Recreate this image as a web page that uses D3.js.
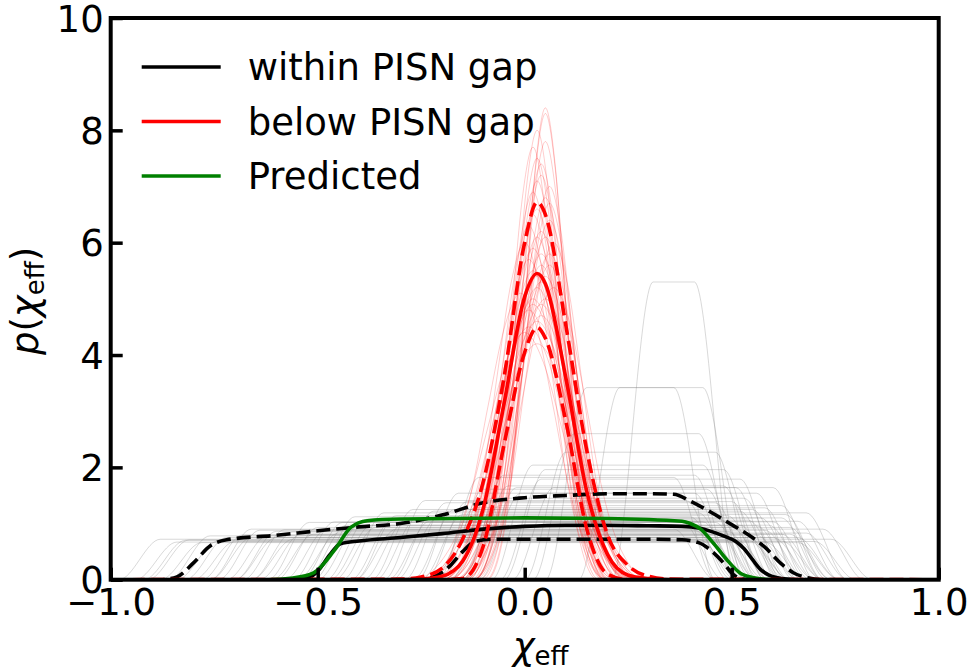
<!DOCTYPE html>
<meta charset="utf-8">
<script src="https://d3js.org/d3.v7.min.js"></script>
<style>
  body { margin: 0; background: #fff; }
  text { font-family: "DejaVu Sans", sans-serif; }
</style>
<div id="chart"></div>
<script>
    // tick values
    const xTicks = [-1, -0.5, 0, 0.5, 1];
    const yTicks = [0, 2, 4, 6, 8, 10];

    // legend
    const legendLabels = ["within PISN gap", "below PISN gap", "Predicted"];
    const legendColors = ["black", "red", "green"];

    // posterior draws, within PISN gap: [low edge, high edge, height]
    const grayDraws = [
        [-0.88, 0.62, 0.67], [-0.85, 0.55, 0.71], [-0.82, 0.70, 0.66], [-0.80, 0.48, 0.78],
        [-0.78, 0.66, 0.69], [-0.76, 0.58, 0.75], [-0.74, 0.74, 0.68], [-0.72, 0.52, 0.80],
        [-0.70, 0.64, 0.75], [-0.68, 0.45, 0.88], [-0.66, 0.60, 0.79], [-0.64, 0.70, 0.75],
        [-0.62, 0.50, 0.89], [-0.60, 0.57, 0.85], [-0.58, 0.66, 0.81], [-0.56, 0.42, 1.02],
        [-0.54, 0.54, 0.93], [-0.52, 0.62, 0.88], [-0.50, 0.47, 1.03], [-0.49, 0.72, 0.83],
        [-0.47, 0.56, 0.97], [-0.45, 0.44, 1.12], [-0.44, 0.60, 0.96], [-0.42, 0.51, 1.08],
        [-0.40, 0.68, 0.93], [-0.38, 0.46, 1.19], [-0.36, 0.58, 1.06], [-0.35, 0.53, 1.14],
        [-0.33, 0.64, 1.03], [-0.31, 0.49, 1.25], [-0.30, 0.61, 1.10], [-0.28, 0.43, 1.41],
        [-0.26, 0.56, 1.22], [-0.25, 0.66, 1.10], [-0.23, 0.50, 1.37], [-0.21, 0.59, 1.25],
        [-0.20, 0.45, 1.54], [-0.18, 0.54, 1.39], [-0.16, 0.62, 1.28], [-0.14, 0.48, 1.61],
        [-0.12, 0.57, 1.45], [-0.10, 0.66, 1.32], [-0.08, 0.52, 1.67], [-0.05, 0.60, 1.54],
        [-0.02, 0.47, 2.04], [0.00, 0.56, 1.79], [0.03, 0.64, 1.64], [0.06, 0.50, 2.27],
        [-0.12, 0.72, 1.19], [-0.06, 0.55, 1.64], [0.08, 0.46, 2.60], [0.11, 0.40, 3.42],
        [0.19, 0.47, 3.42], [0.27, 0.45, 5.30], [-0.60, 0.78, 0.72], [-0.92, 0.46, 0.72],
        [-0.70, 0.40, 0.90], [-0.35, 0.76, 0.90], [-0.55, 0.68, 0.81], [-0.15, 0.40, 1.82],
        [-0.86, 0.58, 0.70], [-0.64, 0.53, 0.86], [-0.41, 0.63, 0.97], [-0.27, 0.70, 1.04],
        [-0.09, 0.45, 1.86], [-0.48, 0.50, 1.02], [-0.19, 0.67, 1.16], [0.01, 0.52, 1.96]
    ];

    // posterior draws, below PISN gap: [centre, peak, width]
    const redDraws = [
        [0.03, 5.4, 0.074], [0.05, 6.1, 0.065], [0.01, 4.8, 0.083], [0.04, 7.2, 0.055],
        [0.02, 5.0, 0.080], [0.06, 5.8, 0.069], [0.03, 6.6, 0.060], [0.00, 4.4, 0.090],
        [0.05, 8.3, 0.048], [0.04, 5.6, 0.071], [0.02, 6.9, 0.058], [0.07, 5.2, 0.077],
        [0.03, 4.6, 0.087], [0.01, 6.3, 0.063], [0.05, 7.8, 0.051], [0.04, 5.3, 0.075],
        [0.06, 6.4, 0.062], [0.02, 5.9, 0.068], [0.03, 7.5, 0.053], [-0.01, 5.1, 0.078],
        [0.04, 4.9, 0.082], [0.05, 6.8, 0.059], [0.02, 5.5, 0.073], [0.06, 7.0, 0.057],
        [0.03, 8.0, 0.050], [0.01, 5.7, 0.070], [0.04, 6.2, 0.064], [0.03, 4.2, 0.095],
        [0.05, 5.0, 0.080], [0.02, 6.5, 0.061], [0.07, 6.0, 0.066], [0.04, 7.4, 0.054],
        [0.03, 5.2, 0.077], [0.00, 6.0, 0.066], [0.05, 5.4, 0.074], [0.02, 7.7, 0.052],
        [0.04, 4.7, 0.085], [0.06, 5.6, 0.071], [0.03, 6.1, 0.065], [0.01, 4.5, 0.088],
        [0.05, 8.4, 0.047], [0.04, 5.8, 0.069], [0.03, 7.1, 0.056], [0.02, 4.9, 0.082],
        [0.06, 6.7, 0.060]
    ];
    // shape of one red draw, in widths and fractions of the peak
    const redProfileOffset = [-3, -2, -1.5, -1, -0.5, 0, 0.5, 1, 1.5, 2, 3];
    const redProfileRel = [0, 0.13, 0.32, 0.61, 0.88, 1, 0.88, 0.61, 0.32, 0.13, 0];

    // within PISN gap: median and 90% band
    const withinMedian = [[-1, 0], [-0.56, 0], [-0.52, 0.04], [-0.5, 0.15], [-0.47, 0.45], [-0.445, 0.64],
        [-0.4, 0.69], [-0.3, 0.75], [-0.2, 0.82], [-0.1, 0.9], [0, 0.95], [0.1, 0.97], [0.2, 0.97],
        [0.3, 0.96], [0.38, 0.95], [0.42, 0.92], [0.45, 0.86], [0.48, 0.78], [0.51, 0.68],
        [0.53, 0.55], [0.55, 0.36], [0.57, 0.18], [0.59, 0.08], [0.62, 0.02], [0.66, 0], [1, 0]];
    const withinUpper = [[-1, 0], [-0.88, 0], [-0.84, 0.05], [-0.8, 0.3], [-0.76, 0.6], [-0.72, 0.71],
        [-0.6, 0.79], [-0.5, 0.87], [-0.4, 0.94], [-0.3, 1.0], [-0.2, 1.15], [-0.1, 1.37], [0, 1.46],
        [0.1, 1.5], [0.2, 1.53], [0.3, 1.53], [0.36, 1.52], [0.4, 1.4], [0.45, 1.2], [0.5, 0.98],
        [0.55, 0.75], [0.58, 0.58], [0.62, 0.28], [0.65, 0.12], [0.68, 0.04], [0.72, 0], [1, 0]];
    const withinLower = [[-1, 0], [-0.25, 0], [-0.22, 0.05], [-0.18, 0.25], [-0.15, 0.5], [-0.12, 0.68],
        [-0.08, 0.72], [0.1, 0.72], [0.3, 0.72], [0.38, 0.71], [0.42, 0.66], [0.45, 0.52],
        [0.48, 0.3], [0.5, 0.12], [0.52, 0.02], [0.55, 0], [1, 0]];

    // below PISN gap: median and 90% band
    const belowX = [-1, -0.3, -0.25, -0.2, -0.15, -0.1, -0.05, 0, 0.03, 0.05, 0.1, 0.15, 0.2, 0.25, 0.3, 0.35, 1];
    const belowMedian = [0, 0, 0.01, 0.06, 0.33, 1.27, 3.13, 5.04, 5.45, 5.27, 3.57, 1.57, 0.45, 0.08, 0.02, 0, 0];
    const belowUpper = [0, 0.01, 0.05, 0.2, 0.72, 1.75, 3.6, 6.0, 6.72, 6.5, 4.5, 2.3, 0.8, 0.25, 0.06, 0.01, 0];
    const belowLower = [0, 0, 0, 0, 0.02, 0.6, 2.4, 4.05, 4.49, 4.3, 2.8, 0.9, 0.1, 0, 0, 0, 0];

    // predicted
    const predicted = [[-1, 0], [-0.62, 0], [-0.56, 0.03], [-0.51, 0.12], [-0.46, 0.52], [-0.42, 0.93],
        [-0.38, 1.05], [-0.3, 1.08], [0, 1.1], [0.2, 1.09], [0.38, 1.04], [0.4, 1.0], [0.425, 0.9],
        [0.457, 0.64], [0.49, 0.34], [0.52, 0.12], [0.55, 0.04], [0.6, 0], [1, 0]];

    const W = 971, H = 670;
    const margin = {top: 18, right: 32.3, bottom: 90.3, left: 110.7},
        width = W - margin.left - margin.right,
        height = H - margin.top - margin.bottom;

    const svg = d3.select("#chart")
        .append("svg")
            .attr("width", W)
            .attr("height", H)
        .append("g")
            .attr("transform", `translate(${margin.left},${margin.top})`);

    const x = d3.scaleLinear().domain([-1, 1]).range([0, width]);
    const y = d3.scaleLinear().domain([0, 10]).range([height, 0]);

    svg.append("clipPath").attr("id", "clip")
        .append("rect").attr("width", width).attr("height", height);

    const line = d3.line()
        .curve(d3.curveMonotoneX)
        .x(d => x(d[0]))
        .y(d => y(d[1]));

    const plot = svg.append("g").attr("clip-path", "url(#clip)");

    // gray draws
    plot.append("g").selectAll("path")
        .data(grayDraws)
        .join("path")
            .attr("fill", "none")
            .attr("stroke", "#808080")
            .attr("stroke-opacity", 0.3)
            .attr("stroke-width", 1)
            .attr("d", d => line([[-1, 0], [d[0] - 0.06, 0], [d[0] + 0.04, d[2]],
                [d[1] - 0.04, d[2]], [d[1] + 0.06, 0], [1, 0]]));

    // red draws
    plot.append("g").selectAll("path")
        .data(redDraws)
        .join("path")
            .attr("fill", "none")
            .attr("stroke", "red")
            .attr("stroke-opacity", 0.2)
            .attr("stroke-width", 1)
            .attr("d", d => line([[-1, 0]]
                .concat(redProfileOffset.map((o, i) => [d[0] + o * d[2], d[1] * redProfileRel[i]]))
                .concat([[1, 0]])));

    const lw = 3.6, dash = "14,6";

    // within PISN gap summary
    [[withinMedian, null], [withinUpper, dash], [withinLower, dash]].forEach(([pts, da]) => {
        plot.append("path")
            .datum(pts)
            .attr("fill", "none")
            .attr("stroke", "black")
            .attr("stroke-width", lw)
            .attr("stroke-dasharray", da)
            .attr("d", line);
    });

    // below PISN gap summary
    [[belowMedian, null], [belowUpper, dash], [belowLower, dash]].forEach(([vals, da]) => {
        plot.append("path")
            .datum(belowX.map((v, i) => [v, vals[i]]))
            .attr("fill", "none")
            .attr("stroke", "red")
            .attr("stroke-width", lw)
            .attr("stroke-dasharray", da)
            .attr("d", line);
    });

    // predicted
    plot.append("path")
        .datum(predicted)
        .attr("fill", "none")
        .attr("stroke", "green")
        .attr("stroke-width", lw)
        .attr("d", line);

    // axes
    const fs = 37;
    const xAxis = svg.append("g").attr("transform", `translate(0,${height})`)
        .call(d3.axisBottom(x).tickValues(xTicks).tickSizeInner(-12).tickSizeOuter(0)
            .tickFormat(d => d3.format(".1f")(d).replace("-", "\u2212")));
    const yAxis = svg.append("g")
        .call(d3.axisLeft(y).tickValues(yTicks).tickSizeInner(-12).tickSizeOuter(0)
            .tickFormat(d3.format("d")));
    [xAxis, yAxis].forEach(a => {
        a.select(".domain").remove();
        a.selectAll(".tick line").attr("stroke", "black").attr("stroke-width", 3.5);
        a.selectAll(".tick text").attr("font-size", fs).attr("fill", "black")
            .attr("font-family", "DejaVu Sans");
    });
    xAxis.selectAll(".tick text").attr("y", 0).attr("dy", 0)
        .attr("transform", "translate(0,35)");
    yAxis.selectAll(".tick text").attr("x", -7).attr("dy", 0)
        .attr("transform", "translate(0,13)");

    // frame
    svg.append("rect")
        .attr("width", width)
        .attr("height", height)
        .attr("fill", "none")
        .attr("stroke", "black")
        .attr("stroke-width", 4);

    // legend
    const legend = svg.append("g").attr("transform", "translate(31,49)");
    legendLabels.forEach((lab, i) => {
        const g = legend.append("g").attr("transform", `translate(0,${i * 54.5})`);
        g.append("line").attr("x1", 0).attr("x2", 79)
            .attr("stroke", legendColors[i]).attr("stroke-width", lw);
        g.append("text").attr("x", 106).attr("y", 13)
            .attr("font-size", fs).text(lab);
    });

    // axis labels
    const xl = svg.append("text")
        .attr("x", 402).attr("y", height + 79)
        .attr("font-size", fs);
    xl.append("tspan").attr("font-style", "italic").text("\u03c7");
    xl.append("tspan").attr("font-size", 26).attr("dy", 6).text("eff");

    const yl = svg.append("text")
        .attr("transform", `translate(${38 - margin.left},${301 - margin.top}) rotate(-90)`)
        .attr("text-anchor", "middle")
        .attr("font-size", fs);
    yl.append("tspan").attr("font-style", "italic").text("p");
    yl.append("tspan").text("(");
    yl.append("tspan").attr("font-style", "italic").text("\u03c7");
    yl.append("tspan").attr("font-size", 26).attr("dy", 6).text("eff");
    yl.append("tspan").attr("dy", -6).text(")");
</script>
